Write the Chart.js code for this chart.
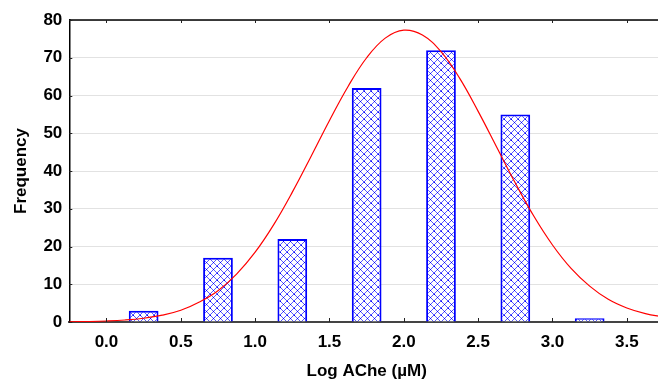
<!DOCTYPE html>
<html>
<head>
<meta charset="utf-8">
<script src="https://cdn.jsdelivr.net/npm/chart.js@4"></script>
<style>
  html, body { margin: 0; padding: 0; background: #fff; overflow: hidden; }
  #wrap { width: 670px; height: 380px; }
</style>
</head>
<body>
<div id="wrap"><canvas id="myChart" width="670" height="380"></canvas></div>
<script>
// histogram bins (bar centres) and counts
const binCentres = [0.25, 0.75, 1.25, 1.75, 2.25, 2.75, 3.25];
const counts = [3, 17, 22, 62, 72, 55, 1];

// fitted normal curve
const curveX = [-0.25, -0.125, 0, 0.125, 0.25, 0.375, 0.5, 0.625, 0.75, 0.875,
    1.0, 1.125, 1.25, 1.375, 1.5, 1.625, 1.75, 1.875, 2.0, 2.125, 2.25, 2.375,
    2.5, 2.625, 2.75, 2.875, 3.0, 3.125, 3.25, 3.375, 3.5, 3.625, 3.75];
const curveY = [0.06, 0.13, 0.27, 0.53, 1.0, 1.8, 3.1, 5.3, 8.3, 12.7,
    18.5, 25.8, 34.4, 43.8, 53.4, 62.4, 70.0, 75.2, 77.3, 76.0, 71.6, 64.6,
    55.8, 46.3, 36.8, 28.0, 20.4, 14.2, 9.5, 6.0, 3.7, 2.2, 1.3];

const xTicks = [0.0, 0.5, 1.0, 1.5, 2.0, 2.5, 3.0, 3.5];

const FONT = "'Liberation Sans', Arial, sans-serif";

function hatchPattern() {
    const c = document.createElement('canvas');
    c.width = 7;
    c.height = 7;
    const g = c.getContext('2d');
    g.fillStyle = '#ffffff';
    g.fillRect(0, 0, 7, 7);
    g.strokeStyle = '#5a5aff';
    g.lineWidth = 1;
    g.beginPath();
    g.moveTo(0, 0); g.lineTo(7, 7);
    g.moveTo(7, 0); g.lineTo(0, 7);
    g.stroke();
    g.fillStyle = '#0000ff';
    g.fillRect(3, 3, 1, 1);
    g.fillRect(0, 0, 1, 1);
    return g.createPattern(c, 'repeat');
}

// top frame line and inward tick marks
const framePlugin = {
    id: 'frame',
    afterDraw(chart) {
        const ctx = chart.ctx;
        const a = chart.chartArea;
        const xs = chart.scales.x;
        const ys = chart.scales.y;
        ctx.save();
        ctx.strokeStyle = '#000';
        ctx.lineWidth = 1.5;
        ctx.beginPath();
        ctx.moveTo(a.left, a.top);
        ctx.lineTo(a.right, a.top);
        ctx.stroke();
        ctx.lineWidth = 1;
        ctx.strokeStyle = '#222';
        ctx.beginPath();
        xTicks.forEach(v => {
            const px = Math.round(xs.getPixelForValue(v)) + 0.5;
            ctx.moveTo(px, a.top); ctx.lineTo(px, a.top + 3);
            ctx.moveTo(px, a.bottom); ctx.lineTo(px, a.bottom - 4);
        });
        ys.ticks.forEach(t => {
            const py = Math.round(ys.getPixelForValue(t.value)) + 0.5;
            ctx.moveTo(a.left, py); ctx.lineTo(a.left + 3, py);
        });
        ctx.stroke();
        ctx.restore();
    }
};

new Chart('myChart', {
    type: 'bar',
    data: {
        datasets: [{
            type: 'line',
            data: curveX.map((x, i) => ({ x: x, y: curveY[i] })),
            borderColor: '#ff0000',
            borderWidth: 1.2,
            pointRadius: 0,
            tension: 0.4,
            fill: false,
            order: 0
        }, {
            type: 'bar',
            data: binCentres.map((x, i) => ({ x: x, y: counts[i] })),
            backgroundColor: hatchPattern(),
            borderColor: '#0000ff',
            borderWidth: 2,
            barPercentage: 0.4,
            categoryPercentage: 1.0,
            order: 1
        }]
    },
    options: {
        responsive: false,
        animation: false,
        layout: { padding: { left: 10, top: 20, right: 6, bottom: 0 } },
        plugins: {
            legend: { display: false },
            tooltip: { enabled: false }
        },
        scales: {
            x: {
                type: 'linear',
                min: -0.25,
                max: 3.75,
                offset: false,
                grid: { display: false, offset: false, drawTicks: false },
                border: { display: true, color: '#444', width: 2 },
                afterBuildTicks: scale => {
                    scale.ticks = xTicks.map(v => ({ value: v }));
                },
                ticks: {
                    color: '#000',
                    padding: 12,
                    font: { family: FONT, size: 17, weight: 'bold', lineHeight: 1.0 },
                    callback: v => Number(v).toFixed(1)
                },
                title: {
                    display: true,
                    text: 'Log AChe (µM)',
                    color: '#000',
                    padding: { top: 0, bottom: 0 },
                    font: { family: FONT, size: 17, weight: 'bold', lineHeight: 1.0 }
                }
            },
            y: {
                min: 0,
                max: 80,
                ticks: {
                    stepSize: 10,
                    color: '#000',
                    padding: 7,
                    font: { family: FONT, size: 17, weight: 'bold' }
                },
                grid: {
                    color: '#c4c4c4',
                    lineWidth: 1,
                    drawTicks: false
                },
                border: { display: true, color: '#000', width: 1.5, dash: [1, 1] },
                title: {
                    display: true,
                    text: 'Frequency',
                    color: '#000',
                    padding: { top: 1, bottom: 5 },
                    font: { family: FONT, size: 17, weight: 'bold' }
                }
            }
        }
    },
    plugins: [framePlugin]
});
</script>
</body>
</html>
